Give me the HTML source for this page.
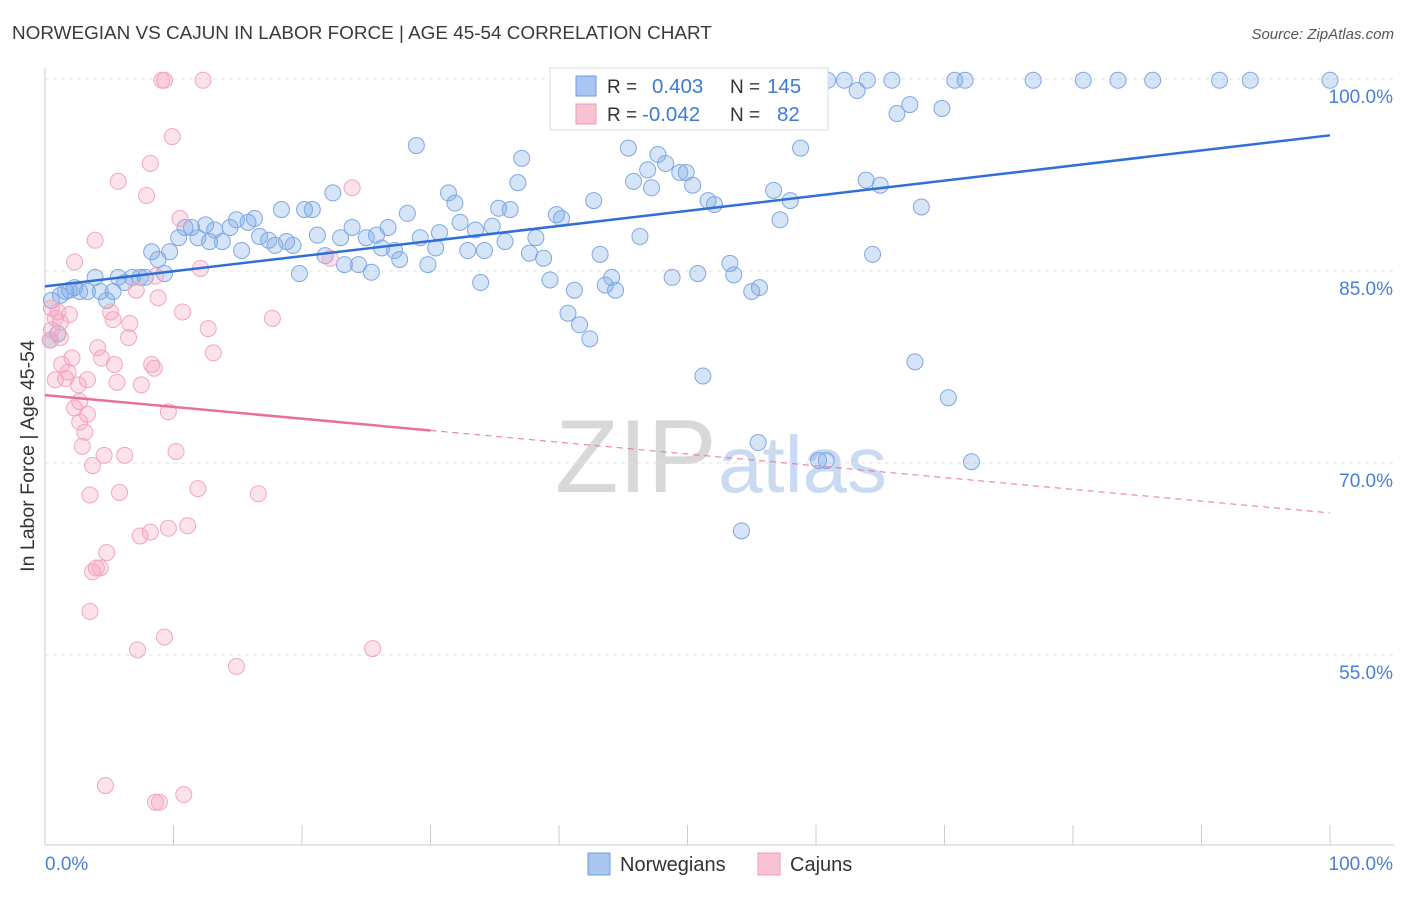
<!DOCTYPE html>
<html><head><meta charset="utf-8"><style>
body{margin:0;background:#fff;font-family:"Liberation Sans",sans-serif;}
svg text{font-family:"Liberation Sans",sans-serif;}
</style></head><body>
<svg id="chart" width="1406" height="892" xmlns="http://www.w3.org/2000/svg">
<text x="12" y="39" font-size="18.9" fill="#3a3a3a">NORWEGIAN VS CAJUN IN LABOR FORCE | AGE 45-54 CORRELATION CHART</text>
<text x="1394" y="39" font-size="15" fill="#555" text-anchor="end" font-style="italic">Source: ZipAtlas.com</text>
<g>
<text x="555" y="492" font-size="104" fill="#d8d8d8" font-family="Liberation Serif">ZIP</text>
<text x="718" y="492" font-size="80" fill="#c9daf2">atlas</text>
</g>
<g id="grid"></g><g id="axes"></g><g id="marks"></g>
<text transform="translate(34,456) rotate(-90)" font-size="19.5" fill="#333" text-anchor="middle">In Labor Force | Age 45-54</text>
<g>
<rect x="550" y="68" width="278" height="62" fill="#fff" stroke="#ddd"/>
<rect x="576" y="76" width="20" height="20" fill="#a9c6f0" stroke="#6b9de0"/>
<rect x="576" y="104" width="20" height="20" fill="#f8c3d4" stroke="#f09ab8"/>
<text x="607" y="93" font-size="19" fill="#333">R = </text><text x="652" y="93" font-size="20.5" fill="#3d7ad6">0.403</text>
<text x="730" y="93" font-size="19" fill="#333">N = </text><text x="767" y="93" font-size="20.5" fill="#3d7ad6">145</text>
<text x="607" y="121" font-size="19" fill="#333">R = </text><text x="642" y="121" font-size="20.5" fill="#3d7ad6">-0.042</text>
<text x="730" y="121" font-size="19" fill="#333">N = </text><text x="777" y="121" font-size="20.5" fill="#3d7ad6">82</text>
</g>
<g>
<rect x="588" y="853" width="22" height="22" fill="#a9c6f0" stroke="#6b9de0"/>
<text x="620" y="871" font-size="20" fill="#333">Norwegians</text>
<rect x="758" y="853" width="22" height="22" fill="#f8c3d4" stroke="#f09ab8"/>
<text x="790" y="871" font-size="20" fill="#333">Cajuns</text>
</g>
</svg>
<script>
const yTicks=[55,70,85,100];
const yTickLabels=["55.0%","70.0%","85.0%","100.0%"];
const xTicks=[0,10,20,30,40,50,60,70,80,90,100];
const blueX=[0.5,1.2,1.6,1.9,2.3,2.7,3.3,3.9,4.3,4.8,5.3,5.7,6.2,6.8,7.4,7.8,8.3,8.8,9.3,9.7,10.4,10.9,11.4,11.9,12.5,12.8,13.2,13.8,14.4,14.9,15.3,15.8,16.3,16.7,17.4,17.9,18.4,18.8,19.3,19.8,20.2,20.8,21.2,21.8,22.4,23.0,23.3,23.9,24.4,25.0,25.4,25.8,26.2,26.7,27.2,27.6,28.2,29.2,28.9,29.8,30.4,30.7,31.4,31.9,32.3,32.9,33.5,33.9,34.2,34.8,35.3,35.8,36.2,36.8,37.1,37.7,38.2,38.8,39.3,39.8,40.2,40.7,41.2,41.6,42.4,42.7,43.2,43.6,44.1,44.4,45.4,45.8,46.3,46.9,47.2,47.7,48.3,48.8,49.4,49.9,50.4,50.8,51.2,51.6,52.1,52.7,53.3,53.6,54.6,55.0,55.6,55.5,54.2,56.4,56.7,57.2,58.0,58.8,59.7,60.2,60.8,60.9,62.2,63.2,63.9,64.0,64.4,65.0,65.9,66.3,67.3,67.7,68.2,69.8,70.3,70.8,71.6,72.1,76.9,80.8,83.5,86.2,91.4,93.8,100.0,1.0,0.4];
const blueY=[82.7,83.1,83.4,83.5,83.7,83.4,83.4,84.5,83.4,82.7,83.4,84.5,84.1,84.5,84.5,84.5,86.5,85.9,84.8,86.5,87.6,88.4,88.4,87.6,88.6,87.3,88.2,87.3,88.4,89.0,86.6,88.8,89.1,87.7,87.4,87.0,89.8,87.3,87.0,84.8,89.8,89.8,87.8,86.2,91.1,87.6,85.5,88.4,85.5,87.6,84.9,87.8,86.8,88.4,86.6,85.9,89.5,87.6,94.8,85.5,86.8,88.0,91.1,90.3,88.8,86.6,88.2,84.1,86.6,88.5,89.9,87.3,89.8,91.9,93.8,86.4,87.6,86.0,84.3,89.4,89.1,81.7,83.5,80.8,79.7,90.5,86.3,83.9,84.5,83.5,94.6,92.0,87.7,92.9,91.5,94.1,93.4,84.5,92.7,92.7,91.7,84.8,76.8,90.5,90.2,97.7,85.6,84.7,99.9,83.4,83.7,71.6,64.7,99.1,91.3,89.0,90.5,94.6,99.9,70.2,70.2,99.9,99.9,99.1,92.1,99.9,86.3,91.7,99.9,97.3,98.0,77.9,90.0,97.7,75.1,99.9,99.9,70.1,99.9,99.9,99.9,99.9,99.9,99.9,99.9,80.1,79.6];
const pinkX=[0.5,0.8,0.5,0.4,1.0,1.2,1.2,1.3,0.8,1.6,1.9,2.1,1.8,2.3,2.6,2.7,2.3,2.7,3.1,2.9,3.3,3.3,3.5,3.7,3.9,4.1,4.4,4.6,4.8,5.1,5.3,5.4,5.6,5.7,5.8,6.2,6.5,6.6,7.1,7.4,7.5,7.9,8.2,8.2,8.3,8.5,8.6,8.8,9.1,9.3,9.6,9.6,9.9,10.2,10.5,10.7,11.1,11.9,12.1,12.3,12.7,13.1,14.9,16.6,17.7,22.2,23.9,25.5,3.7,4.0,4.3,4.7,7.2,8.6,8.9,10.8,3.5,9.3];
const pinkY=[82.1,81.3,80.4,79.6,81.8,81.0,79.8,77.7,76.5,76.6,81.6,78.2,77.1,85.7,76.1,74.8,74.3,73.2,72.4,71.3,76.5,73.8,67.5,69.8,87.4,79.0,78.2,70.6,63.0,81.8,81.2,77.7,76.3,92.0,67.7,70.6,79.8,80.9,83.5,64.3,76.1,90.9,93.4,64.6,77.7,77.4,84.6,82.9,99.9,56.4,74.0,64.9,95.5,70.9,89.1,81.8,65.1,68.0,85.2,99.9,80.5,78.6,54.1,67.6,81.3,86.0,91.5,55.5,61.5,61.8,61.8,44.8,55.4,43.5,43.5,44.1,58.4,99.9];
const blueTrend=[83.8,95.6];
const pinkTrend=[75.3,66.1];
const pinkSolidEnd=[30];

const NS="http://www.w3.org/2000/svg";
const X=v=>45+v*12.85;
const Y=v=>79+(100-v)*12.8;
function el(t,a,p){const e=document.createElementNS(NS,t);for(const k in a)e.setAttribute(k,a[k]);document.getElementById(p).appendChild(e);return e;}
yTicks.forEach((t,i)=>{
 const g=el('line',{x1:45,x2:1394,y1:Y(t),y2:Y(t),stroke:'#e3e3e3','stroke-dasharray':'4,4'},'grid');
 
 
 const tx=el('text',{x:1393,y:Y(t)+24,'font-size':19,fill:'#4a7fd6','text-anchor':'end'},'axes');
 tx.textContent=yTickLabels[i];
 
 
});
const ax=el('line',{x1:45,x2:45,y1:68,y2:845,stroke:'#ccc'},'axes');


const bx=el('line',{x1:45,x2:1394,y1:845,y2:845,stroke:'#ccc'},'axes');


xTicks.forEach(t=>{
 const l=el('line',{x1:X(t),x2:X(t),y1:825,y2:845,stroke:'#ccc'},'axes');
 
 
});
const xl0=el('text',{x:45,y:870,'font-size':19,fill:'#4a7fd6'},'axes');xl0.textContent='0.0%';


const xl1=el('text',{x:1393,y:870,'font-size':19,fill:'#4a7fd6','text-anchor':'end'},'axes');xl1.textContent='100.0%';


blueX.forEach((v,i)=>{
 const c=el('circle',{cx:X(v),cy:Y(blueY[i]),r:8,fill:'rgba(120,165,230,0.3)',stroke:'#7ea8e2','stroke-width':1},'marks');
 
 
});
pinkX.forEach((v,i)=>{
 const c=el('circle',{cx:X(v),cy:Y(pinkY[i]),r:8,fill:'rgba(245,160,190,0.3)',stroke:'#f2a6c0','stroke-width':1},'marks');
 
 
});
const bt=el('line',{x1:X(0),y1:Y(blueTrend[0]),x2:X(100),y2:Y(blueTrend[1]),stroke:'#2f6fd6','stroke-width':2.5},'marks');


const pm=pinkTrend[0]+(pinkTrend[1]-pinkTrend[0])*pinkSolidEnd[0]/100;
const ps=el('line',{x1:X(0),y1:Y(pinkTrend[0]),x2:X(pinkSolidEnd[0]),y2:Y(pm),stroke:'#e8709a','stroke-width':2.5},'marks');


const pd=el('line',{x1:X(pinkSolidEnd[0]),y1:Y(pm),x2:X(100),y2:Y(pinkTrend[1]),stroke:'#e8709a','stroke-width':1,'stroke-dasharray':'6,5'},'marks');


</script>
</body></html>
